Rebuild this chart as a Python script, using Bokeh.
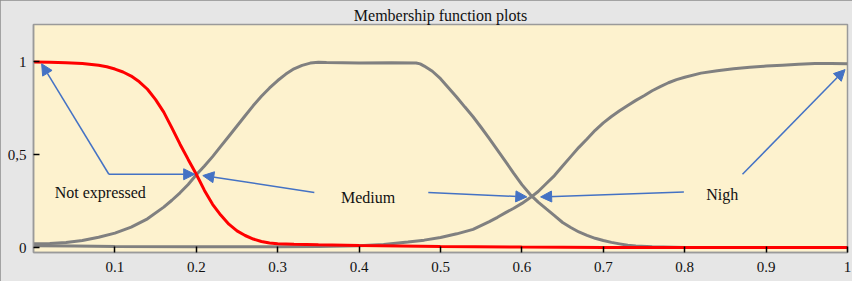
from bokeh.plotting import figure
from bokeh.models import Range1d, FixedTicker, Arrow, NormalHead, ColumnDataSource
from bokeh.core.properties import value
from bokeh.embed import file_html
from bokeh.resources import INLINE

# ---- data ----
not_expr_x = [0, 0.02, 0.04, 0.06, 0.08, 0.09, 0.1, 0.11, 0.12, 0.13, 0.14, 0.15, 0.16, 0.17, 0.18,
              0.19, 0.2, 0.21, 0.22, 0.23, 0.24, 0.25, 0.26, 0.27, 0.28, 0.29, 0.3, 0.32, 0.35, 0.4,
              0.5, 0.6, 0.7, 0.8, 1.0]
not_expr_y = [1.0, 0.999, 0.996, 0.992, 0.982, 0.974, 0.962, 0.946, 0.924, 0.893, 0.853, 0.797, 0.73, 0.645, 0.557,
              0.475, 0.395, 0.308, 0.233, 0.175, 0.126, 0.09, 0.065, 0.046, 0.033, 0.025, 0.021, 0.018, 0.015, 0.011,
              0.006, 0.003, 0.001, 0.0, 0.0]

medium_x = [0, 0.02, 0.04, 0.06, 0.08, 0.1, 0.12, 0.14, 0.16, 0.17, 0.18, 0.19, 0.2, 0.21, 0.22, 0.23,
            0.24, 0.25, 0.26, 0.27, 0.28, 0.29, 0.3, 0.31, 0.32, 0.33, 0.34, 0.35, 0.36, 0.4, 0.44,
            0.47, 0.475, 0.48, 0.49, 0.5, 0.51, 0.52, 0.53, 0.54, 0.55, 0.56, 0.57, 0.58, 0.59, 0.6,
            0.61, 0.62, 0.63, 0.64, 0.65, 0.66, 0.67, 0.68, 0.69, 0.7, 0.71, 0.72, 0.73, 0.74, 0.76,
            0.8, 0.85, 1.0]
medium_y = [0.02, 0.022, 0.027, 0.038, 0.056, 0.078, 0.11, 0.155, 0.218, 0.255, 0.295, 0.34, 0.392, 0.44, 0.49, 0.545,
            0.6, 0.655, 0.71, 0.765, 0.815, 0.86, 0.9, 0.935, 0.963, 0.982, 0.994, 0.998, 0.997, 0.995, 0.996,
            0.995, 0.99, 0.978, 0.95, 0.91, 0.86, 0.81, 0.757, 0.705, 0.647, 0.587, 0.525, 0.463, 0.4, 0.339,
            0.287, 0.245, 0.208, 0.172, 0.135, 0.108, 0.084, 0.066, 0.05, 0.038, 0.028, 0.02, 0.012, 0.008, 0.004,
            0.001, 0.0, 0.0]

nigh_x = [0, 0.05, 0.1, 0.2, 0.3, 0.35, 0.4, 0.43, 0.46, 0.48, 0.5, 0.52, 0.54, 0.56, 0.57, 0.58, 0.59,
          0.6, 0.61, 0.62, 0.63, 0.64, 0.65, 0.66, 0.67, 0.68, 0.69, 0.7, 0.71, 0.72, 0.73, 0.74, 0.75,
          0.76, 0.77, 0.78, 0.79, 0.8, 0.82, 0.84, 0.86, 0.88, 0.9, 0.92, 0.94, 0.96, 0.98, 1.0]
nigh_y = [0.01, 0.008, 0.006, 0.004, 0.004, 0.006, 0.01, 0.017, 0.03, 0.04, 0.054, 0.074, 0.098, 0.14, 0.163, 0.188, 0.212,
          0.238, 0.268, 0.302, 0.345, 0.388, 0.44, 0.49, 0.54, 0.585, 0.632, 0.672, 0.706, 0.737, 0.766, 0.793, 0.818,
          0.845, 0.867, 0.888, 0.905, 0.918, 0.94, 0.953, 0.963, 0.971, 0.978, 0.983, 0.988, 0.992, 0.992, 0.99]

label_text = ["Not expressed", "Medium", "Nigh"]
label_x = [0.082, 0.411, 0.846]
label_y = [0.298, 0.272, 0.287]

arrow_x_start = [0.0926, 0.0926, 0.345, 0.485, 0.799, 0.871]
arrow_y_start = [0.395, 0.395, 0.297, 0.297, 0.300, 0.395]
arrow_x_end = [0.010, 0.198, 0.208, 0.606, 0.623, 0.997]
arrow_y_end = [0.990, 0.395, 0.388, 0.273, 0.273, 0.959]

x_ticks = [0.1, 0.2, 0.3, 0.4, 0.5, 0.6, 0.7, 0.8, 0.9, 1.0]
x_tick_labels = ["0.1", "0.2", "0.3", "0.4", "0.5", "0.6", "0.7", "0.8", "0.9", "1"]
y_ticks = [0, 0.5, 1]
y_tick_labels = ["0", "0,5", "1"]

title_text = "Membership function plots"

# ---- figure ----
FONT = "'Liberation Serif', 'Times New Roman', 'DejaVu Serif', serif"
p = figure(width=852, height=281, x_range=Range1d(0, 1), y_range=Range1d(-0.0266, 1.202),
           output_backend="svg", toolbar_location=None,
           min_border_left=33, min_border_right=5, min_border_top=24, min_border_bottom=29,
           background_fill_color="#fdf2ce", border_fill_color="#e6e6e6")
p.styles = {"outline": "1px solid #8c8c8c", "outline-offset": "-1px"}

p.title.text = title_text
p.title.align = "center"
p.title.text_font = FONT
p.title.text_font_size = "16px"
p.title.text_font_style = "normal"
p.title.text_color = "#111111"
p.title.standoff = 2

p.outline_line_color = "#9a9a9a"
p.outline_line_width = 1.5
p.xgrid.grid_line_color = None
p.ygrid.grid_line_color = None

p.xaxis.ticker = FixedTicker(ticks=x_ticks)
p.xaxis.major_label_overrides = {t: l for t, l in zip(x_ticks, x_tick_labels)}
p.yaxis.ticker = FixedTicker(ticks=y_ticks)
p.yaxis.major_label_overrides = {t: l for t, l in zip(y_ticks, y_tick_labels)}
for ax in (p.xaxis, p.yaxis):
    ax.major_tick_in = 6
    ax.major_tick_out = 0
    ax.major_tick_line_color = "black"
    ax.major_tick_line_width = 1.5
    ax.minor_tick_line_color = None
    ax.axis_line_color = "#9a9a9a"
    ax.axis_line_width = 1.5
    ax.major_label_text_font = FONT
    ax.major_label_text_font_size = "15px"
    ax.major_label_text_color = "#111111"
p.xaxis.major_label_standoff = 9
p.yaxis.major_label_standoff = 7

p.line(medium_x, medium_y, line_color="#808080", line_width=3)
p.line(nigh_x, nigh_y, line_color="#808080", line_width=3)
p.line(not_expr_x, not_expr_y, line_color="#ff0000", line_width=3)

arrow_src = ColumnDataSource(dict(xs=arrow_x_start, ys=arrow_y_start, xe=arrow_x_end, ye=arrow_y_end))
p.add_layout(Arrow(x_start="xs", y_start="ys", x_end="xe", y_end="ye", source=arrow_src,
                   line_color="#4472c4", line_width=1.5,
                   end=NormalHead(size=11, fill_color="#4472c4", line_color="#4472c4")))

p.text(x=label_x, y=label_y, text=label_text, text_font=value(FONT), text_font_size=value("16px"),
       text_align="center", text_baseline="middle", text_color="#111111")

open("out.html", "w").write(file_html(p, INLINE))
